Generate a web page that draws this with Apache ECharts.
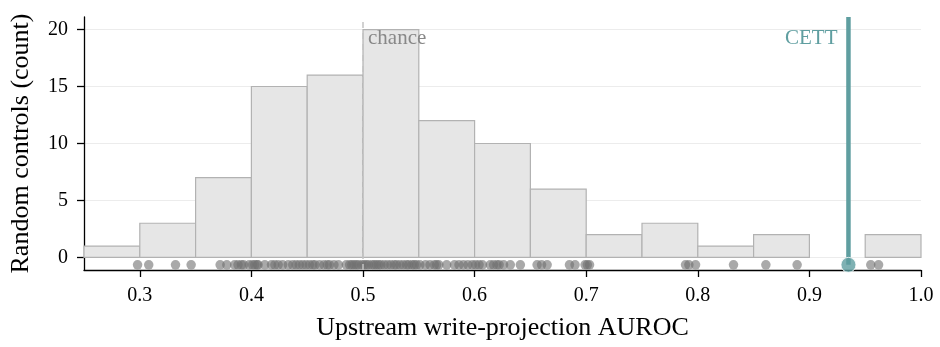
<!DOCTYPE html>
<html>
<head>
<meta charset="utf-8">
<script src="https://cdn.jsdelivr.net/npm/echarts@6/dist/echarts.min.js"></script>
<style>
  html, body { margin: 0; padding: 0; background: #fff; }
  #chart { width: 940px; height: 347px; }
</style>
</head>
<body>
<div id="chart"></div>
<script>
// Histogram bins (left edges, width 0.05) and counts of random-control AUROCs
const binEdges = [0.25, 0.30, 0.35, 0.40, 0.45, 0.50, 0.55, 0.60, 0.65, 0.70, 0.75, 0.80, 0.85, 0.90, 0.95, 1.00];
const binCounts = [1, 3, 7, 15, 16, 20, 12, 10, 6, 2, 3, 1, 2, 0, 2];

// Individual random-control AUROC values (rug)
const controlAurocs = [
  0.298,
  0.308, 0.332, 0.346,
  0.372, 0.378, 0.385, 0.388, 0.391, 0.393, 0.398,
  0.401, 0.403, 0.405, 0.406, 0.412, 0.418, 0.421, 0.424, 0.428, 0.433, 0.437, 0.440, 0.443, 0.446, 0.449,
  0.452, 0.455, 0.457, 0.461, 0.465, 0.468, 0.470, 0.474, 0.478, 0.485, 0.488, 0.490, 0.492, 0.494, 0.496, 0.499,
  0.501, 0.503, 0.505, 0.508, 0.510, 0.512, 0.514, 0.516, 0.519, 0.522, 0.525, 0.528, 0.530, 0.533, 0.536, 0.539, 0.541, 0.544, 0.546, 0.548,
  0.551, 0.556, 0.560, 0.564, 0.566, 0.568, 0.575, 0.582, 0.586, 0.590, 0.594, 0.598,
  0.601, 0.604, 0.607, 0.614, 0.617, 0.620, 0.622, 0.626, 0.632, 0.641,
  0.656, 0.660, 0.665, 0.685, 0.690, 0.699,
  0.701, 0.703,
  0.789, 0.792, 0.798,
  0.832,
  0.861, 0.889,
  0.955, 0.962
];

// Method of interest and chance reference
const cettAuroc = 0.935;
const chanceAuroc = 0.5;

// Axis ticks
const xTicks = [0.3, 0.4, 0.5, 0.6, 0.7, 0.8, 0.9, 1.0];
const yTicks = [0, 5, 10, 15, 20];

const FONT = '"Liberation Serif", "DejaVu Serif", serif';
const TEAL = '#5f9ea0';
const Y_MIN = -1.1, Y_MAX = 21.1, RUG_Y = -0.65;

const histData = binCounts.map((c, i) => [binEdges[i], binEdges[i + 1], c]);

const chart = echarts.init(document.getElementById('chart'), null, { renderer: 'canvas' });

chart.setOption({
  animation: false,
  backgroundColor: '#ffffff',
  textStyle: { fontFamily: FONT },
  grid: { left: 84, right: 19, top: 17, bottom: 77, containLabel: false },
  xAxis: {
    type: 'value', min: 0.25, max: 1.0,
    name: 'Upstream write-projection AUROC',
    nameLocation: 'middle', nameGap: 45,
    nameTextStyle: { fontFamily: FONT, fontSize: 26, color: '#000' },
    axisLine: { show: true, onZero: false, lineStyle: { color: '#000', width: 1.3 } },
    axisTick: { show: true, length: 7, customValues: xTicks, lineStyle: { color: '#000', width: 1.3 } },
    axisLabel: { customValues: xTicks, fontFamily: FONT, fontSize: 20, color: '#000', margin: 16,
      formatter: v => v.toFixed(1) },
    splitLine: { show: false }
  },
  yAxis: {
    type: 'value', min: Y_MIN, max: Y_MAX,
    name: 'Random controls (count)',
    nameLocation: 'middle', nameGap: 50, nameRotate: 90,
    nameTextStyle: { fontFamily: FONT, fontSize: 26, color: '#000' },
    axisLine: { show: true, lineStyle: { color: '#000', width: 1.3 } },
    axisTick: { show: true, length: 7, customValues: yTicks, lineStyle: { color: '#000', width: 1.3 } },
    axisLabel: { customValues: yTicks, fontFamily: FONT, fontSize: 20, color: '#000', margin: 16 },
    splitLine: { show: true, lineStyle: { color: '#ececec', width: 1.2 } }
  },
  series: [
    {
      // histogram bars
      type: 'custom',
      z: 2,
      data: histData,
      renderItem: (params, api) => {
        const x0 = api.value(0), x1 = api.value(1), c = api.value(2);
        if (c <= 0) return null;
        const pTop = api.coord([x0, c]);
        const pBot = api.coord([x1, 0]);
        return {
          type: 'rect',
          shape: { x: pTop[0], y: pTop[1], width: pBot[0] - pTop[0], height: pBot[1] - pTop[1] },
          style: { fill: '#e6e6e6', stroke: '#b2b2b2', lineWidth: 1.2 }
        };
      }
    },
    {
      // chance reference line
      type: 'line',
      z: 3,
      data: [],
      markLine: {
        silent: true, symbol: 'none',
        label: { show: false },
        lineStyle: { color: '#c4c4c4', type: [6, 5], width: 1.5 },
        data: [{ xAxis: chanceAuroc }]
      }
    },
    {
      // rug of individual control values
      type: 'scatter',
      z: 4,
      symbol: 'circle', symbolSize: 9.5,
      itemStyle: { color: 'rgba(112,112,112,0.75)' },
      data: controlAurocs.map(v => [v, RUG_Y])
    },
    {
      // CETT vertical marker
      type: 'line',
      z: 5,
      showSymbol: false,
      symbol: 'none',
      lineStyle: { color: TEAL, width: 4.5 },
      data: [[cettAuroc, RUG_Y], [cettAuroc, Y_MAX]]
    },
    {
      // CETT point on the rug
      type: 'scatter',
      z: 6,
      symbol: 'circle', symbolSize: 15,
      itemStyle: { color: TEAL, borderColor: '#fff', borderWidth: 1 },
      data: [[cettAuroc, RUG_Y]]
    },
    {
      // text annotations
      type: 'custom',
      z: 7,
      data: [[chanceAuroc, 20], [cettAuroc, 20]],
      renderItem: (params, api) => {
        const p = api.coord([api.value(0), api.value(1)]);
        const d = params.dataIndex === 0 ? ['chance', 'left', '#888888', 5] : ['CETT', 'right', TEAL, -11];
        return {
          type: 'text',
          x: p[0] + d[3], y: p[1] + 9,
          style: { text: d[0], fill: d[2], fontFamily: FONT, fontSize: 21, align: d[1], verticalAlign: 'middle' }
        };
      }
    }
  ]
});
</script>
</body>
</html>
